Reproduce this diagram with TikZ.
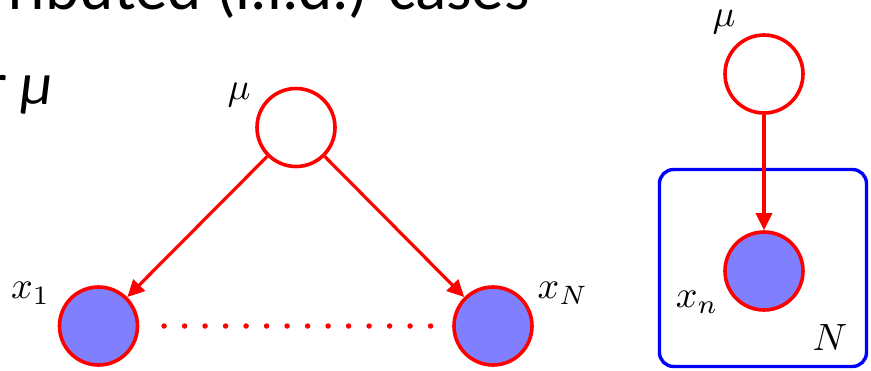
\documentclass[tikz,border=0pt]{standalone}
\usepackage{graphicx}
\usepackage[no-math]{fontspec}
\setmainfont{Carlito}
\usetikzlibrary{arrows.meta}
\definecolor{obsblue}{RGB}{128,128,255}
\newcommand{\biglab}[1]{\scalebox{3.8}{#1}}
\tikzset{
  latent/.style={circle, draw=red, line width=3.6pt, fill=white, minimum size=78pt, inner sep=0pt},
  observed/.style={latent, fill=obsblue},
  edge/.style={draw=red, line width=3.2pt, -{Triangle[length=17pt,width=16pt]}},
  lab/.style={inner sep=0pt},
  dotline/.style={draw=red, line width=5.5pt, line cap=round, dash pattern=on 0pt off 20.5pt},
  platebox/.style={draw=blue, line width=3.4pt, rounded corners=14pt, minimum width=207pt, minimum height=197pt, inner sep=0pt},
  slide/.style={inner sep=0pt, font=\fontsize{65}{76}\selectfont}
}
\begin{document}
\begin{tikzpicture}[x=1pt,y=-1pt]
\useasboundingbox (0,0) rectangle (871,370);
\clip (0,0) rectangle (871,370);
% slide text
\node[slide, anchor=base west] (title) at (8,9) {ributed (i.i.d.) cases};
\node[slide, anchor=base west, font=\fontsize{60}{72}\selectfont] (formu) at (-14,104) {r {\itshape μ}};
% left graph
\node[latent] (mu) at (296,127.5) {};
\node[observed] (x1) at (98.5,326) {};
\node[observed] (xN) at (493,326) {};
\node[lab] (mulab) at (239,95) {\biglab{$\mu$}};
\node[lab] (x1lab) at (30.5,293.5) {\biglab{$x_1$}};
\node[lab] (xNlab) at (563,293) {\biglab{$x_N$}};
\draw[edge] (mu) -- (x1);
\draw[edge] (mu) -- (xN);
\draw[dotline, shorten <=24.8pt, shorten >=21.3pt] (x1.east) -- (xN.west);
% right plate model
\node[platebox] (plate) at (763,268) {};
\node[latent] (mu2) at (764,74) {};
\node[observed] (xn) at (764,271) {};
\node[lab] (mu2lab) at (724,22.5) {\biglab{$\mu$}};
\node[lab] (xnlab) at (697,302) {\biglab{$x_n$}};
\node[lab] (Nlab) at (830,338) {\biglab{$N$}};
\draw[edge] (mu2) -- (xn);
\end{tikzpicture}
\end{document}
